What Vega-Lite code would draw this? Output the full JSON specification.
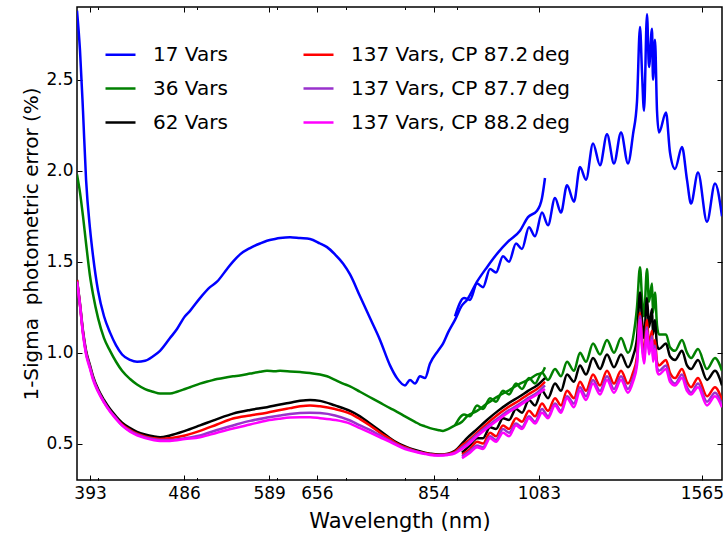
{
"$schema": "https://vega.github.io/schema/vega-lite/v6.json",
"width": 645, "height": 473,
"autosize": {"type": "none"},
"padding": {"left": 77, "top": 7, "right": 2, "bottom": 57},
"background": "white",
"config": {"view": {"stroke": "black", "strokeWidth": 1.5}, "font": "DejaVu Sans"},
"data": {"values": [
{"series":"17","part":"v","wl":381.6,"err":2.88},{"series":"17","part":"v","wl":384.2,"err":2.66},{"series":"17","part":"v","wl":386.8,"err":2.33},{"series":"17","part":"v","wl":389.5,"err":1.95},{"series":"17","part":"v","wl":393.0,"err":1.68},{"series":"17","part":"v","wl":395.7,"err":1.53},{"series":"17","part":"v","wl":400.2,"err":1.34},{"series":"17","part":"v","wl":405.6,"err":1.20},{"series":"17","part":"v","wl":411.2,"err":1.11},{"series":"17","part":"v","wl":416.8,"err":1.04},{"series":"17","part":"v","wl":422.5,"err":0.99},{"series":"17","part":"v","wl":430.2,"err":0.96},{"series":"17","part":"v","wl":437.0,"err":0.95},{"series":"17","part":"v","wl":445.0,"err":0.955},{"series":"17","part":"v","wl":453.1,"err":0.98},{"series":"17","part":"v","wl":460.3,"err":1.01},{"series":"17","part":"v","wl":470.8,"err":1.08},{"series":"17","part":"v","wl":478.3,"err":1.13},{"series":"17","part":"v","wl":487.0,"err":1.20},{"series":"17","part":"v","wl":492.6,"err":1.23},{"series":"17","part":"v","wl":503.8,"err":1.30},{"series":"17","part":"v","wl":515.3,"err":1.36},{"series":"17","part":"v","wl":523.5,"err":1.39},{"series":"17","part":"v","wl":535.5,"err":1.46},{"series":"17","part":"v","wl":542.8,"err":1.50},{"series":"17","part":"v","wl":551.5,"err":1.54},{"series":"17","part":"v","wl":564.1,"err":1.575},{"series":"17","part":"v","wl":576.9,"err":1.60},{"series":"17","part":"v","wl":586.1,"err":1.615},{"series":"17","part":"v","wl":596.8,"err":1.625},{"series":"17","part":"v","wl":603.6,"err":1.63},{"series":"17","part":"v","wl":617.4,"err":1.635},{"series":"17","part":"v","wl":631.5,"err":1.63},{"series":"17","part":"v","wl":645.9,"err":1.625},{"series":"17","part":"v","wl":660.7,"err":1.60},{"series":"17","part":"v","wl":671.2,"err":1.58},{"series":"17","part":"v","wl":683.4,"err":1.54},{"series":"17","part":"v","wl":695.9,"err":1.49},{"series":"17","part":"v","wl":707.0,"err":1.43},{"series":"17","part":"v","wl":723.1,"err":1.31},{"series":"17","part":"v","wl":739.6,"err":1.19},{"series":"17","part":"v","wl":756.5,"err":1.07},{"series":"17","part":"v","wl":773.8,"err":0.93},{"series":"17","part":"v","wl":786.1,"err":0.86},{"series":"17","part":"v","wl":800.5,"err":0.82},{"series":"17","part":"v","wl":809.5,"err":0.85},{"series":"17","part":"v","wl":818.7,"err":0.83},{"series":"17","part":"v","wl":828.0,"err":0.87},{"series":"17","part":"v","wl":837.4,"err":0.86},{"series":"17","part":"v","wl":847.0,"err":0.94},{"series":"17","part":"v","wl":862.4,"err":1.01},{"series":"17","part":"v","wl":872.2,"err":1.05},{"series":"17","part":"v","wl":882.1,"err":1.11},{"series":"17","part":"v","wl":896.1,"err":1.18},{"series":"17","part":"v","wl":910.4,"err":1.26},{"series":"17","part":"v","wl":920.8,"err":1.29},{"series":"17","part":"v","wl":941.8,"err":1.39},{"series":"17","part":"v","wl":963.3,"err":1.47},{"series":"17","part":"v","wl":987.5,"err":1.55},{"series":"17","part":"v","wl":1010.1,"err":1.61},{"series":"17","part":"v","wl":1037.8,"err":1.67},{"series":"17","part":"v","wl":1056.8,"err":1.745},{"series":"17","part":"v","wl":1078.5,"err":1.78},{"series":"17","part":"v","wl":1090.7,"err":1.85},{"series":"17","part":"v","wl":1098.1,"err":1.96},
{"series":"17","part":"n","wl":896.1,"err":1.20},{"series":"17","part":"n","wl":914.6,"err":1.30},{"series":"17","part":"n","wl":927.0,"err":1.29},{"series":"17","part":"n","wl":941.8,"err":1.38},{"series":"17","part":"n","wl":954.6,"err":1.36},{"series":"17","part":"n","wl":969.9,"err":1.46},{"series":"17","part":"n","wl":983.1,"err":1.44},{"series":"17","part":"n","wl":998.7,"err":1.53},{"series":"17","part":"n","wl":1012.4,"err":1.50},{"series":"17","part":"n","wl":1028.5,"err":1.60},{"series":"17","part":"n","wl":1042.5,"err":1.57},{"series":"17","part":"n","wl":1059.1,"err":1.69},{"series":"17","part":"n","wl":1073.6,"err":1.64},{"series":"17","part":"n","wl":1090.7,"err":1.77},{"series":"17","part":"n","wl":1105.6,"err":1.70},{"series":"17","part":"n","wl":1123.2,"err":1.85},{"series":"17","part":"n","wl":1138.5,"err":1.77},{"series":"17","part":"n","wl":1154.1,"err":1.92},{"series":"17","part":"n","wl":1172.4,"err":1.83},{"series":"17","part":"n","wl":1188.4,"err":2.02},{"series":"17","part":"n","wl":1204.7,"err":1.95},{"series":"17","part":"n","wl":1223.9,"err":2.15},{"series":"17","part":"n","wl":1243.4,"err":2.03},{"series":"17","part":"n","wl":1263.2,"err":2.20},{"series":"17","part":"n","wl":1283.3,"err":2.04},{"series":"17","part":"n","wl":1303.8,"err":2.21},{"series":"17","part":"n","wl":1324.5,"err":2.04},{"series":"17","part":"n","wl":1339.6,"err":2.20},{"series":"17","part":"n","wl":1351.7,"err":2.38},{"series":"17","part":"n","wl":1360.9,"err":2.79},{"series":"17","part":"n","wl":1367.1,"err":2.54},{"series":"17","part":"n","wl":1373.3,"err":2.33},{"series":"17","part":"n","wl":1382.6,"err":2.86},{"series":"17","part":"n","wl":1388.9,"err":2.57},{"series":"17","part":"n","wl":1398.3,"err":2.78},{"series":"17","part":"n","wl":1401.5,"err":2.50},{"series":"17","part":"n","wl":1407.8,"err":2.72},{"series":"17","part":"n","wl":1414.2,"err":2.33},{"series":"17","part":"n","wl":1420.6,"err":2.21},{"series":"17","part":"n","wl":1443.2,"err":2.32},{"series":"17","part":"n","wl":1456.3,"err":2.10},{"series":"17","part":"n","wl":1472.9,"err":2.01},{"series":"17","part":"n","wl":1496.3,"err":2.13},{"series":"17","part":"n","wl":1513.3,"err":1.95},{"series":"17","part":"n","wl":1527.0,"err":1.82},{"series":"17","part":"n","wl":1551.4,"err":1.99},{"series":"17","part":"n","wl":1583.2,"err":1.72},{"series":"17","part":"n","wl":1612.1,"err":1.93},{"series":"17","part":"n","wl":1637.8,"err":1.75},
{"series":"36","part":"v","wl":381.6,"err":1.98},{"series":"36","part":"v","wl":384.2,"err":1.88},{"series":"36","part":"v","wl":386.8,"err":1.75},{"series":"36","part":"v","wl":389.5,"err":1.60},{"series":"36","part":"v","wl":393.0,"err":1.42},{"series":"36","part":"v","wl":395.7,"err":1.32},{"series":"36","part":"v","wl":400.2,"err":1.19},{"series":"36","part":"v","wl":405.6,"err":1.08},{"series":"36","part":"v","wl":411.2,"err":1.01},{"series":"36","part":"v","wl":416.8,"err":0.95},{"series":"36","part":"v","wl":422.5,"err":0.90},{"series":"36","part":"v","wl":430.2,"err":0.855},{"series":"36","part":"v","wl":437.0,"err":0.825},{"series":"36","part":"v","wl":445.0,"err":0.80},{"series":"36","part":"v","wl":453.1,"err":0.785},{"series":"36","part":"v","wl":460.3,"err":0.775},{"series":"36","part":"v","wl":470.8,"err":0.775},{"series":"36","part":"v","wl":478.3,"err":0.785},{"series":"36","part":"v","wl":487.0,"err":0.80},{"series":"36","part":"v","wl":492.6,"err":0.81},{"series":"36","part":"v","wl":503.8,"err":0.83},{"series":"36","part":"v","wl":515.3,"err":0.845},{"series":"36","part":"v","wl":523.5,"err":0.855},{"series":"36","part":"v","wl":535.5,"err":0.865},{"series":"36","part":"v","wl":542.8,"err":0.87},{"series":"36","part":"v","wl":551.5,"err":0.875},{"series":"36","part":"v","wl":564.1,"err":0.885},{"series":"36","part":"v","wl":576.9,"err":0.895},{"series":"36","part":"v","wl":586.1,"err":0.90},{"series":"36","part":"v","wl":596.8,"err":0.898},{"series":"36","part":"v","wl":603.6,"err":0.90},{"series":"36","part":"v","wl":617.4,"err":0.897},{"series":"36","part":"v","wl":631.5,"err":0.893},{"series":"36","part":"v","wl":645.9,"err":0.888},{"series":"36","part":"v","wl":660.7,"err":0.88},{"series":"36","part":"v","wl":671.2,"err":0.87},{"series":"36","part":"v","wl":683.4,"err":0.85},{"series":"36","part":"v","wl":695.9,"err":0.83},{"series":"36","part":"v","wl":707.0,"err":0.815},{"series":"36","part":"v","wl":723.1,"err":0.785},{"series":"36","part":"v","wl":739.6,"err":0.755},{"series":"36","part":"v","wl":756.5,"err":0.725},{"series":"36","part":"v","wl":773.8,"err":0.695},{"series":"36","part":"v","wl":786.1,"err":0.675},{"series":"36","part":"v","wl":800.5,"err":0.65},{"series":"36","part":"v","wl":809.5,"err":0.635},{"series":"36","part":"v","wl":818.7,"err":0.62},{"series":"36","part":"v","wl":828.0,"err":0.605},{"series":"36","part":"v","wl":837.4,"err":0.595},{"series":"36","part":"v","wl":847.0,"err":0.585},{"series":"36","part":"v","wl":862.4,"err":0.575},{"series":"36","part":"v","wl":872.2,"err":0.57},{"series":"36","part":"v","wl":882.1,"err":0.58},{"series":"36","part":"v","wl":896.1,"err":0.60},{"series":"36","part":"v","wl":910.4,"err":0.62},{"series":"36","part":"v","wl":920.8,"err":0.65},{"series":"36","part":"v","wl":941.8,"err":0.68},{"series":"36","part":"v","wl":963.3,"err":0.72},{"series":"36","part":"v","wl":987.5,"err":0.76},{"series":"36","part":"v","wl":1010.1,"err":0.79},{"series":"36","part":"v","wl":1037.8,"err":0.83},{"series":"36","part":"v","wl":1056.8,"err":0.85},{"series":"36","part":"v","wl":1078.5,"err":0.88},{"series":"36","part":"v","wl":1090.7,"err":0.89},{"series":"36","part":"v","wl":1098.1,"err":0.92},
{"series":"36","part":"n","wl":896.1,"err":0.60},{"series":"36","part":"n","wl":914.6,"err":0.66},{"series":"36","part":"n","wl":927.0,"err":0.65},{"series":"36","part":"n","wl":941.8,"err":0.71},{"series":"36","part":"n","wl":954.6,"err":0.69},{"series":"36","part":"n","wl":969.9,"err":0.75},{"series":"36","part":"n","wl":983.1,"err":0.73},{"series":"36","part":"n","wl":998.7,"err":0.79},{"series":"36","part":"n","wl":1012.4,"err":0.77},{"series":"36","part":"n","wl":1028.5,"err":0.83},{"series":"36","part":"n","wl":1042.5,"err":0.80},{"series":"36","part":"n","wl":1059.1,"err":0.86},{"series":"36","part":"n","wl":1073.6,"err":0.83},{"series":"36","part":"n","wl":1090.7,"err":0.89},{"series":"36","part":"n","wl":1105.6,"err":0.85},{"series":"36","part":"n","wl":1123.2,"err":0.91},{"series":"36","part":"n","wl":1138.5,"err":0.87},{"series":"36","part":"n","wl":1154.1,"err":0.95},{"series":"36","part":"n","wl":1172.4,"err":0.90},{"series":"36","part":"n","wl":1188.4,"err":1.00},{"series":"36","part":"n","wl":1204.7,"err":0.95},{"series":"36","part":"n","wl":1223.9,"err":1.05},{"series":"36","part":"n","wl":1243.4,"err":0.99},{"series":"36","part":"n","wl":1263.2,"err":1.07},{"series":"36","part":"n","wl":1283.3,"err":1.00},{"series":"36","part":"n","wl":1303.8,"err":1.08},{"series":"36","part":"n","wl":1324.5,"err":1.00},{"series":"36","part":"n","wl":1339.6,"err":1.08},{"series":"36","part":"n","wl":1351.7,"err":1.25},{"series":"36","part":"n","wl":1360.9,"err":1.47},{"series":"36","part":"n","wl":1367.1,"err":1.30},{"series":"36","part":"n","wl":1373.3,"err":1.20},{"series":"36","part":"n","wl":1382.6,"err":1.46},{"series":"36","part":"n","wl":1388.9,"err":1.28},{"series":"36","part":"n","wl":1398.3,"err":1.38},{"series":"36","part":"n","wl":1401.5,"err":1.22},{"series":"36","part":"n","wl":1407.8,"err":1.33},{"series":"36","part":"n","wl":1414.2,"err":1.15},{"series":"36","part":"n","wl":1420.6,"err":1.10},{"series":"36","part":"n","wl":1443.2,"err":1.10},{"series":"36","part":"n","wl":1456.3,"err":1.03},{"series":"36","part":"n","wl":1472.9,"err":1.01},{"series":"36","part":"n","wl":1496.3,"err":1.07},{"series":"36","part":"n","wl":1513.3,"err":1.00},{"series":"36","part":"n","wl":1527.0,"err":0.97},{"series":"36","part":"n","wl":1551.4,"err":1.02},{"series":"36","part":"n","wl":1583.2,"err":0.91},{"series":"36","part":"n","wl":1612.1,"err":0.97},{"series":"36","part":"n","wl":1637.8,"err":0.90},
{"series":"62","part":"v","wl":381.6,"err":1.40},{"series":"62","part":"v","wl":384.2,"err":1.27},{"series":"62","part":"v","wl":386.8,"err":1.12},{"series":"62","part":"v","wl":389.5,"err":1.01},{"series":"62","part":"v","wl":393.0,"err":0.93},{"series":"62","part":"v","wl":395.7,"err":0.87},{"series":"62","part":"v","wl":400.2,"err":0.80},{"series":"62","part":"v","wl":405.6,"err":0.74},{"series":"62","part":"v","wl":411.2,"err":0.69},{"series":"62","part":"v","wl":416.8,"err":0.65},{"series":"62","part":"v","wl":422.5,"err":0.615},{"series":"62","part":"v","wl":430.2,"err":0.585},{"series":"62","part":"v","wl":437.0,"err":0.565},{"series":"62","part":"v","wl":445.0,"err":0.55},{"series":"62","part":"v","wl":453.1,"err":0.54},{"series":"62","part":"v","wl":460.3,"err":0.535},{"series":"62","part":"v","wl":470.8,"err":0.545},{"series":"62","part":"v","wl":487.0,"err":0.57},{"series":"62","part":"v","wl":503.8,"err":0.60},{"series":"62","part":"v","wl":523.5,"err":0.635},{"series":"62","part":"v","wl":542.8,"err":0.665},{"series":"62","part":"v","wl":564.1,"err":0.685},{"series":"62","part":"v","wl":586.1,"err":0.70},{"series":"62","part":"v","wl":603.6,"err":0.715},{"series":"62","part":"v","wl":617.4,"err":0.725},{"series":"62","part":"v","wl":631.5,"err":0.735},{"series":"62","part":"v","wl":645.9,"err":0.74},{"series":"62","part":"v","wl":660.7,"err":0.735},{"series":"62","part":"v","wl":683.4,"err":0.71},{"series":"62","part":"v","wl":707.0,"err":0.68},{"series":"62","part":"v","wl":723.1,"err":0.65},{"series":"62","part":"v","wl":739.6,"err":0.61},{"series":"62","part":"v","wl":756.5,"err":0.57},{"series":"62","part":"v","wl":773.8,"err":0.53},{"series":"62","part":"v","wl":786.1,"err":0.505},{"series":"62","part":"v","wl":800.5,"err":0.485},{"series":"62","part":"v","wl":818.7,"err":0.465},{"series":"62","part":"v","wl":837.4,"err":0.45},{"series":"62","part":"v","wl":847.0,"err":0.445},{"series":"62","part":"v","wl":862.4,"err":0.44},{"series":"62","part":"v","wl":882.1,"err":0.445},{"series":"62","part":"v","wl":896.1,"err":0.46},{"series":"62","part":"v","wl":910.4,"err":0.50},{"series":"62","part":"v","wl":920.8,"err":0.53},{"series":"62","part":"v","wl":941.8,"err":0.58},{"series":"62","part":"v","wl":963.3,"err":0.63},{"series":"62","part":"v","wl":987.5,"err":0.68},{"series":"62","part":"v","wl":1010.1,"err":0.72},{"series":"62","part":"v","wl":1037.8,"err":0.76},{"series":"62","part":"v","wl":1056.8,"err":0.79},{"series":"62","part":"v","wl":1078.5,"err":0.82},{"series":"62","part":"v","wl":1098.1,"err":0.86},
{"series":"62","part":"n","wl":910.4,"err":0.45},{"series":"62","part":"n","wl":927.0,"err":0.49},{"series":"62","part":"n","wl":941.8,"err":0.53},{"series":"62","part":"n","wl":954.6,"err":0.53},{"series":"62","part":"n","wl":969.9,"err":0.59},{"series":"62","part":"n","wl":983.1,"err":0.58},{"series":"62","part":"n","wl":998.7,"err":0.64},{"series":"62","part":"n","wl":1012.4,"err":0.63},{"series":"62","part":"n","wl":1028.5,"err":0.69},{"series":"62","part":"n","wl":1042.5,"err":0.67},{"series":"62","part":"n","wl":1059.1,"err":0.74},{"series":"62","part":"n","wl":1073.6,"err":0.71},{"series":"62","part":"n","wl":1090.7,"err":0.79},{"series":"62","part":"n","wl":1105.6,"err":0.75},{"series":"62","part":"n","wl":1123.2,"err":0.83},{"series":"62","part":"n","wl":1138.5,"err":0.79},{"series":"62","part":"n","wl":1154.1,"err":0.88},{"series":"62","part":"n","wl":1172.4,"err":0.84},{"series":"62","part":"n","wl":1188.4,"err":0.93},{"series":"62","part":"n","wl":1204.7,"err":0.88},{"series":"62","part":"n","wl":1223.9,"err":0.97},{"series":"62","part":"n","wl":1243.4,"err":0.91},{"series":"62","part":"n","wl":1263.2,"err":0.99},{"series":"62","part":"n","wl":1283.3,"err":0.92},{"series":"62","part":"n","wl":1303.8,"err":0.99},{"series":"62","part":"n","wl":1324.5,"err":0.92},{"series":"62","part":"n","wl":1339.6,"err":0.98},{"series":"62","part":"n","wl":1351.7,"err":1.08},{"series":"62","part":"n","wl":1360.9,"err":1.33},{"series":"62","part":"n","wl":1367.1,"err":1.18},{"series":"62","part":"n","wl":1373.3,"err":1.08},{"series":"62","part":"n","wl":1382.6,"err":1.30},{"series":"62","part":"n","wl":1388.9,"err":1.14},{"series":"62","part":"n","wl":1398.3,"err":1.24},{"series":"62","part":"n","wl":1401.5,"err":1.10},{"series":"62","part":"n","wl":1407.8,"err":1.18},{"series":"62","part":"n","wl":1414.2,"err":1.04},{"series":"62","part":"n","wl":1420.6,"err":1.02},{"series":"62","part":"n","wl":1443.2,"err":1.05},{"series":"62","part":"n","wl":1456.3,"err":0.98},{"series":"62","part":"n","wl":1472.9,"err":0.96},{"series":"62","part":"n","wl":1496.3,"err":1.01},{"series":"62","part":"n","wl":1513.3,"err":0.93},{"series":"62","part":"n","wl":1527.0,"err":0.91},{"series":"62","part":"n","wl":1551.4,"err":0.96},{"series":"62","part":"n","wl":1583.2,"err":0.85},{"series":"62","part":"n","wl":1612.1,"err":0.90},{"series":"62","part":"n","wl":1637.8,"err":0.82},
{"series":"87.2","part":"v","wl":381.6,"err":1.40},{"series":"87.2","part":"v","wl":384.2,"err":1.26},{"series":"87.2","part":"v","wl":386.8,"err":1.11},{"series":"87.2","part":"v","wl":389.5,"err":1.00},{"series":"87.2","part":"v","wl":393.0,"err":0.92},{"series":"87.2","part":"v","wl":395.7,"err":0.86},{"series":"87.2","part":"v","wl":400.2,"err":0.79},{"series":"87.2","part":"v","wl":405.6,"err":0.73},{"series":"87.2","part":"v","wl":411.2,"err":0.68},{"series":"87.2","part":"v","wl":416.8,"err":0.64},{"series":"87.2","part":"v","wl":422.5,"err":0.605},{"series":"87.2","part":"v","wl":430.2,"err":0.575},{"series":"87.2","part":"v","wl":437.0,"err":0.555},{"series":"87.2","part":"v","wl":445.0,"err":0.54},{"series":"87.2","part":"v","wl":453.1,"err":0.53},{"series":"87.2","part":"v","wl":460.3,"err":0.525},{"series":"87.2","part":"v","wl":470.8,"err":0.53},{"series":"87.2","part":"v","wl":487.0,"err":0.545},{"series":"87.2","part":"v","wl":503.8,"err":0.57},{"series":"87.2","part":"v","wl":523.5,"err":0.605},{"series":"87.2","part":"v","wl":542.8,"err":0.638},{"series":"87.2","part":"v","wl":564.1,"err":0.655},{"series":"87.2","part":"v","wl":586.1,"err":0.67},{"series":"87.2","part":"v","wl":603.6,"err":0.685},{"series":"87.2","part":"v","wl":617.4,"err":0.695},{"series":"87.2","part":"v","wl":631.5,"err":0.705},{"series":"87.2","part":"v","wl":645.9,"err":0.71},{"series":"87.2","part":"v","wl":660.7,"err":0.705},{"series":"87.2","part":"v","wl":683.4,"err":0.69},{"series":"87.2","part":"v","wl":707.0,"err":0.665},{"series":"87.2","part":"v","wl":723.1,"err":0.635},{"series":"87.2","part":"v","wl":739.6,"err":0.60},{"series":"87.2","part":"v","wl":756.5,"err":0.56},{"series":"87.2","part":"v","wl":773.8,"err":0.525},{"series":"87.2","part":"v","wl":786.1,"err":0.50},{"series":"87.2","part":"v","wl":800.5,"err":0.48},{"series":"87.2","part":"v","wl":818.7,"err":0.46},{"series":"87.2","part":"v","wl":837.4,"err":0.447},{"series":"87.2","part":"v","wl":847.0,"err":0.443},{"series":"87.2","part":"v","wl":862.4,"err":0.438},{"series":"87.2","part":"v","wl":882.1,"err":0.443},{"series":"87.2","part":"v","wl":896.1,"err":0.455},{"series":"87.2","part":"v","wl":910.4,"err":0.49},{"series":"87.2","part":"v","wl":920.8,"err":0.51},{"series":"87.2","part":"v","wl":941.8,"err":0.56},{"series":"87.2","part":"v","wl":963.3,"err":0.61},{"series":"87.2","part":"v","wl":987.5,"err":0.66},{"series":"87.2","part":"v","wl":1010.1,"err":0.70},{"series":"87.2","part":"v","wl":1037.8,"err":0.74},{"series":"87.2","part":"v","wl":1056.8,"err":0.77},{"series":"87.2","part":"v","wl":1078.5,"err":0.80},{"series":"87.2","part":"v","wl":1098.1,"err":0.84},
{"series":"87.2","part":"n","wl":910.4,"err":0.44},{"series":"87.2","part":"n","wl":927.0,"err":0.47},{"series":"87.2","part":"n","wl":941.8,"err":0.51},{"series":"87.2","part":"n","wl":954.6,"err":0.50},{"series":"87.2","part":"n","wl":969.9,"err":0.56},{"series":"87.2","part":"n","wl":983.1,"err":0.54},{"series":"87.2","part":"n","wl":998.7,"err":0.60},{"series":"87.2","part":"n","wl":1012.4,"err":0.58},{"series":"87.2","part":"n","wl":1028.5,"err":0.64},{"series":"87.2","part":"n","wl":1042.5,"err":0.62},{"series":"87.2","part":"n","wl":1059.1,"err":0.68},{"series":"87.2","part":"n","wl":1073.6,"err":0.65},{"series":"87.2","part":"n","wl":1090.7,"err":0.72},{"series":"87.2","part":"n","wl":1105.6,"err":0.68},{"series":"87.2","part":"n","wl":1123.2,"err":0.75},{"series":"87.2","part":"n","wl":1138.5,"err":0.71},{"series":"87.2","part":"n","wl":1154.1,"err":0.79},{"series":"87.2","part":"n","wl":1172.4,"err":0.75},{"series":"87.2","part":"n","wl":1188.4,"err":0.84},{"series":"87.2","part":"n","wl":1204.7,"err":0.79},{"series":"87.2","part":"n","wl":1223.9,"err":0.88},{"series":"87.2","part":"n","wl":1243.4,"err":0.82},{"series":"87.2","part":"n","wl":1263.2,"err":0.90},{"series":"87.2","part":"n","wl":1283.3,"err":0.83},{"series":"87.2","part":"n","wl":1303.8,"err":0.90},{"series":"87.2","part":"n","wl":1324.5,"err":0.83},{"series":"87.2","part":"n","wl":1339.6,"err":0.89},{"series":"87.2","part":"n","wl":1351.7,"err":0.98},{"series":"87.2","part":"n","wl":1360.9,"err":1.22},{"series":"87.2","part":"n","wl":1367.1,"err":1.08},{"series":"87.2","part":"n","wl":1373.3,"err":0.99},{"series":"87.2","part":"n","wl":1382.6,"err":1.18},{"series":"87.2","part":"n","wl":1388.9,"err":1.04},{"series":"87.2","part":"n","wl":1398.3,"err":1.12},{"series":"87.2","part":"n","wl":1401.5,"err":1.00},{"series":"87.2","part":"n","wl":1407.8,"err":1.07},{"series":"87.2","part":"n","wl":1414.2,"err":0.95},{"series":"87.2","part":"n","wl":1420.6,"err":0.93},{"series":"87.2","part":"n","wl":1443.2,"err":0.96},{"series":"87.2","part":"n","wl":1456.3,"err":0.89},{"series":"87.2","part":"n","wl":1472.9,"err":0.86},{"series":"87.2","part":"n","wl":1496.3,"err":0.91},{"series":"87.2","part":"n","wl":1513.3,"err":0.84},{"series":"87.2","part":"n","wl":1527.0,"err":0.81},{"series":"87.2","part":"n","wl":1551.4,"err":0.86},{"series":"87.2","part":"n","wl":1583.2,"err":0.76},{"series":"87.2","part":"n","wl":1612.1,"err":0.81},{"series":"87.2","part":"n","wl":1637.8,"err":0.74},
{"series":"87.7","part":"v","wl":381.6,"err":1.39},{"series":"87.7","part":"v","wl":384.2,"err":1.26},{"series":"87.7","part":"v","wl":386.8,"err":1.11},{"series":"87.7","part":"v","wl":389.5,"err":1.00},{"series":"87.7","part":"v","wl":393.0,"err":0.92},{"series":"87.7","part":"v","wl":395.7,"err":0.86},{"series":"87.7","part":"v","wl":400.2,"err":0.79},{"series":"87.7","part":"v","wl":405.6,"err":0.73},{"series":"87.7","part":"v","wl":411.2,"err":0.68},{"series":"87.7","part":"v","wl":416.8,"err":0.64},{"series":"87.7","part":"v","wl":422.5,"err":0.60},{"series":"87.7","part":"v","wl":430.2,"err":0.57},{"series":"87.7","part":"v","wl":437.0,"err":0.55},{"series":"87.7","part":"v","wl":445.0,"err":0.535},{"series":"87.7","part":"v","wl":453.1,"err":0.525},{"series":"87.7","part":"v","wl":460.3,"err":0.52},{"series":"87.7","part":"v","wl":470.8,"err":0.52},{"series":"87.7","part":"v","wl":487.0,"err":0.53},{"series":"87.7","part":"v","wl":503.8,"err":0.545},{"series":"87.7","part":"v","wl":523.5,"err":0.575},{"series":"87.7","part":"v","wl":542.8,"err":0.60},{"series":"87.7","part":"v","wl":564.1,"err":0.625},{"series":"87.7","part":"v","wl":586.1,"err":0.643},{"series":"87.7","part":"v","wl":603.6,"err":0.655},{"series":"87.7","part":"v","wl":617.4,"err":0.663},{"series":"87.7","part":"v","wl":631.5,"err":0.668},{"series":"87.7","part":"v","wl":645.9,"err":0.67},{"series":"87.7","part":"v","wl":660.7,"err":0.668},{"series":"87.7","part":"v","wl":683.4,"err":0.655},{"series":"87.7","part":"v","wl":707.0,"err":0.627},{"series":"87.7","part":"v","wl":723.1,"err":0.60},{"series":"87.7","part":"v","wl":739.6,"err":0.575},{"series":"87.7","part":"v","wl":756.5,"err":0.545},{"series":"87.7","part":"v","wl":773.8,"err":0.515},{"series":"87.7","part":"v","wl":786.1,"err":0.495},{"series":"87.7","part":"v","wl":800.5,"err":0.475},{"series":"87.7","part":"v","wl":818.7,"err":0.458},{"series":"87.7","part":"v","wl":837.4,"err":0.445},{"series":"87.7","part":"v","wl":847.0,"err":0.44},{"series":"87.7","part":"v","wl":862.4,"err":0.436},{"series":"87.7","part":"v","wl":882.1,"err":0.44},{"series":"87.7","part":"v","wl":896.1,"err":0.45},{"series":"87.7","part":"v","wl":910.4,"err":0.48},{"series":"87.7","part":"v","wl":920.8,"err":0.50},{"series":"87.7","part":"v","wl":941.8,"err":0.55},{"series":"87.7","part":"v","wl":963.3,"err":0.595},{"series":"87.7","part":"v","wl":987.5,"err":0.64},{"series":"87.7","part":"v","wl":1010.1,"err":0.68},{"series":"87.7","part":"v","wl":1037.8,"err":0.72},{"series":"87.7","part":"v","wl":1056.8,"err":0.75},{"series":"87.7","part":"v","wl":1078.5,"err":0.78},{"series":"87.7","part":"v","wl":1098.1,"err":0.82},
{"series":"87.7","part":"n","wl":910.4,"err":0.43},{"series":"87.7","part":"n","wl":927.0,"err":0.46},{"series":"87.7","part":"n","wl":941.8,"err":0.49},{"series":"87.7","part":"n","wl":954.6,"err":0.48},{"series":"87.7","part":"n","wl":969.9,"err":0.54},{"series":"87.7","part":"n","wl":983.1,"err":0.52},{"series":"87.7","part":"n","wl":998.7,"err":0.58},{"series":"87.7","part":"n","wl":1012.4,"err":0.56},{"series":"87.7","part":"n","wl":1028.5,"err":0.61},{"series":"87.7","part":"n","wl":1042.5,"err":0.59},{"series":"87.7","part":"n","wl":1059.1,"err":0.65},{"series":"87.7","part":"n","wl":1073.6,"err":0.62},{"series":"87.7","part":"n","wl":1090.7,"err":0.69},{"series":"87.7","part":"n","wl":1105.6,"err":0.65},{"series":"87.7","part":"n","wl":1123.2,"err":0.72},{"series":"87.7","part":"n","wl":1138.5,"err":0.68},{"series":"87.7","part":"n","wl":1154.1,"err":0.76},{"series":"87.7","part":"n","wl":1172.4,"err":0.72},{"series":"87.7","part":"n","wl":1188.4,"err":0.81},{"series":"87.7","part":"n","wl":1204.7,"err":0.76},{"series":"87.7","part":"n","wl":1223.9,"err":0.85},{"series":"87.7","part":"n","wl":1243.4,"err":0.79},{"series":"87.7","part":"n","wl":1263.2,"err":0.87},{"series":"87.7","part":"n","wl":1283.3,"err":0.80},{"series":"87.7","part":"n","wl":1303.8,"err":0.87},{"series":"87.7","part":"n","wl":1324.5,"err":0.80},{"series":"87.7","part":"n","wl":1339.6,"err":0.86},{"series":"87.7","part":"n","wl":1351.7,"err":0.95},{"series":"87.7","part":"n","wl":1360.9,"err":1.20},{"series":"87.7","part":"n","wl":1367.1,"err":1.05},{"series":"87.7","part":"n","wl":1373.3,"err":0.96},{"series":"87.7","part":"n","wl":1382.6,"err":1.14},{"series":"87.7","part":"n","wl":1388.9,"err":1.01},{"series":"87.7","part":"n","wl":1398.3,"err":1.09},{"series":"87.7","part":"n","wl":1401.5,"err":0.97},{"series":"87.7","part":"n","wl":1407.8,"err":1.04},{"series":"87.7","part":"n","wl":1414.2,"err":0.92},{"series":"87.7","part":"n","wl":1420.6,"err":0.90},{"series":"87.7","part":"n","wl":1443.2,"err":0.93},{"series":"87.7","part":"n","wl":1456.3,"err":0.86},{"series":"87.7","part":"n","wl":1472.9,"err":0.83},{"series":"87.7","part":"n","wl":1496.3,"err":0.88},{"series":"87.7","part":"n","wl":1513.3,"err":0.81},{"series":"87.7","part":"n","wl":1527.0,"err":0.78},{"series":"87.7","part":"n","wl":1551.4,"err":0.83},{"series":"87.7","part":"n","wl":1583.2,"err":0.73},{"series":"87.7","part":"n","wl":1612.1,"err":0.78},{"series":"87.7","part":"n","wl":1637.8,"err":0.71},
{"series":"88.2","part":"v","wl":381.6,"err":1.39},{"series":"88.2","part":"v","wl":384.2,"err":1.26},{"series":"88.2","part":"v","wl":386.8,"err":1.10},{"series":"88.2","part":"v","wl":389.5,"err":0.99},{"series":"88.2","part":"v","wl":393.0,"err":0.91},{"series":"88.2","part":"v","wl":395.7,"err":0.85},{"series":"88.2","part":"v","wl":400.2,"err":0.785},{"series":"88.2","part":"v","wl":405.6,"err":0.725},{"series":"88.2","part":"v","wl":411.2,"err":0.675},{"series":"88.2","part":"v","wl":416.8,"err":0.635},{"series":"88.2","part":"v","wl":422.5,"err":0.60},{"series":"88.2","part":"v","wl":430.2,"err":0.565},{"series":"88.2","part":"v","wl":437.0,"err":0.545},{"series":"88.2","part":"v","wl":445.0,"err":0.53},{"series":"88.2","part":"v","wl":453.1,"err":0.52},{"series":"88.2","part":"v","wl":460.3,"err":0.515},{"series":"88.2","part":"v","wl":470.8,"err":0.515},{"series":"88.2","part":"v","wl":487.0,"err":0.525},{"series":"88.2","part":"v","wl":503.8,"err":0.535},{"series":"88.2","part":"v","wl":523.5,"err":0.56},{"series":"88.2","part":"v","wl":542.8,"err":0.583},{"series":"88.2","part":"v","wl":564.1,"err":0.605},{"series":"88.2","part":"v","wl":586.1,"err":0.627},{"series":"88.2","part":"v","wl":603.6,"err":0.637},{"series":"88.2","part":"v","wl":617.4,"err":0.643},{"series":"88.2","part":"v","wl":631.5,"err":0.645},{"series":"88.2","part":"v","wl":645.9,"err":0.645},{"series":"88.2","part":"v","wl":660.7,"err":0.64},{"series":"88.2","part":"v","wl":683.4,"err":0.63},{"series":"88.2","part":"v","wl":707.0,"err":0.61},{"series":"88.2","part":"v","wl":723.1,"err":0.585},{"series":"88.2","part":"v","wl":739.6,"err":0.56},{"series":"88.2","part":"v","wl":756.5,"err":0.535},{"series":"88.2","part":"v","wl":773.8,"err":0.51},{"series":"88.2","part":"v","wl":786.1,"err":0.49},{"series":"88.2","part":"v","wl":800.5,"err":0.47},{"series":"88.2","part":"v","wl":818.7,"err":0.455},{"series":"88.2","part":"v","wl":837.4,"err":0.443},{"series":"88.2","part":"v","wl":847.0,"err":0.438},{"series":"88.2","part":"v","wl":862.4,"err":0.434},{"series":"88.2","part":"v","wl":882.1,"err":0.438},{"series":"88.2","part":"v","wl":896.1,"err":0.447},{"series":"88.2","part":"v","wl":910.4,"err":0.47},{"series":"88.2","part":"v","wl":920.8,"err":0.49},{"series":"88.2","part":"v","wl":941.8,"err":0.54},{"series":"88.2","part":"v","wl":963.3,"err":0.585},{"series":"88.2","part":"v","wl":987.5,"err":0.63},{"series":"88.2","part":"v","wl":1010.1,"err":0.67},{"series":"88.2","part":"v","wl":1037.8,"err":0.71},{"series":"88.2","part":"v","wl":1056.8,"err":0.74},{"series":"88.2","part":"v","wl":1078.5,"err":0.77},{"series":"88.2","part":"v","wl":1098.1,"err":0.80},
{"series":"88.2","part":"n","wl":910.4,"err":0.42},{"series":"88.2","part":"n","wl":927.0,"err":0.45},{"series":"88.2","part":"n","wl":941.8,"err":0.48},{"series":"88.2","part":"n","wl":954.6,"err":0.47},{"series":"88.2","part":"n","wl":969.9,"err":0.53},{"series":"88.2","part":"n","wl":983.1,"err":0.51},{"series":"88.2","part":"n","wl":998.7,"err":0.56},{"series":"88.2","part":"n","wl":1012.4,"err":0.54},{"series":"88.2","part":"n","wl":1028.5,"err":0.60},{"series":"88.2","part":"n","wl":1042.5,"err":0.58},{"series":"88.2","part":"n","wl":1059.1,"err":0.64},{"series":"88.2","part":"n","wl":1073.6,"err":0.61},{"series":"88.2","part":"n","wl":1090.7,"err":0.67},{"series":"88.2","part":"n","wl":1105.6,"err":0.64},{"series":"88.2","part":"n","wl":1123.2,"err":0.71},{"series":"88.2","part":"n","wl":1138.5,"err":0.67},{"series":"88.2","part":"n","wl":1154.1,"err":0.75},{"series":"88.2","part":"n","wl":1172.4,"err":0.70},{"series":"88.2","part":"n","wl":1188.4,"err":0.79},{"series":"88.2","part":"n","wl":1204.7,"err":0.74},{"series":"88.2","part":"n","wl":1223.9,"err":0.83},{"series":"88.2","part":"n","wl":1243.4,"err":0.77},{"series":"88.2","part":"n","wl":1263.2,"err":0.85},{"series":"88.2","part":"n","wl":1283.3,"err":0.78},{"series":"88.2","part":"n","wl":1303.8,"err":0.85},{"series":"88.2","part":"n","wl":1324.5,"err":0.78},{"series":"88.2","part":"n","wl":1339.6,"err":0.84},{"series":"88.2","part":"n","wl":1351.7,"err":0.93},{"series":"88.2","part":"n","wl":1360.9,"err":1.18},{"series":"88.2","part":"n","wl":1367.1,"err":1.03},{"series":"88.2","part":"n","wl":1373.3,"err":0.94},{"series":"88.2","part":"n","wl":1382.6,"err":1.12},{"series":"88.2","part":"n","wl":1388.9,"err":0.99},{"series":"88.2","part":"n","wl":1398.3,"err":1.07},{"series":"88.2","part":"n","wl":1401.5,"err":0.95},{"series":"88.2","part":"n","wl":1407.8,"err":1.02},{"series":"88.2","part":"n","wl":1414.2,"err":0.90},{"series":"88.2","part":"n","wl":1420.6,"err":0.88},{"series":"88.2","part":"n","wl":1443.2,"err":0.91},{"series":"88.2","part":"n","wl":1456.3,"err":0.84},{"series":"88.2","part":"n","wl":1472.9,"err":0.82},{"series":"88.2","part":"n","wl":1496.3,"err":0.86},{"series":"88.2","part":"n","wl":1513.3,"err":0.79},{"series":"88.2","part":"n","wl":1527.0,"err":0.77},{"series":"88.2","part":"n","wl":1551.4,"err":0.81},{"series":"88.2","part":"n","wl":1583.2,"err":0.71},{"series":"88.2","part":"n","wl":1612.1,"err":0.76},{"series":"88.2","part":"n","wl":1637.8,"err":0.70}
]},
"layer": [
{"mark": {"type": "line", "strokeWidth": 2.5, "interpolate": "monotone", "clip": true},
 "encoding": {
  "x": {"field": "wl", "type": "quantitative",
        "scale": {"type": "log", "domain": [381.6, 1637.8], "nice": false},
        "axis": {"orient": "bottom", "values": [393,400,486,500,589,600,656,700,800,854,900,1083,1565],
                 "labelExpr": "indexof([393,486,589,656,854,1083,1565], datum.value) >= 0 ? '' + datum.value : ''",
                 "title": "Wavelength (nm)", "grid": false, "domain": false, "labelFlush": false,
                 "tickColor": "black", "tickWidth": 1,
                 "tickSize": {"condition": {"test": "indexof([393,486,589,656,854,1083,1565], datum.value) >= 0", "value": -5}, "value": -2.5},
                 "labelFontSize": 17, "labelColor": "black", "labelPadding": 10,
                 "titleFontSize": 21, "titleFontWeight": "normal", "titleColor": "black", "titlePadding": 9}},
  "y": {"field": "err", "type": "quantitative",
        "scale": {"domain": [0.3, 2.9], "nice": false, "zero": false},
        "axis": {"orient": "left", "values": [0.5, 1.0, 1.5, 2.0, 2.5], "format": ".1f",
                 "title": "1-Sigma\u00a0 photometric error (%)", "grid": false, "domain": false,
                 "tickColor": "black", "tickWidth": 1, "tickSize": -5,
                 "labelFontSize": 17, "labelColor": "black", "labelPadding": 9,
                 "titleFontSize": 20, "titleFontWeight": "normal", "titleColor": "black", "titlePadding": 4}},
  "color": {"field": "series", "type": "nominal",
            "scale": {"domain": ["17","36","62","87.2","87.7","88.2"],
                      "range": ["#0000ff","#008000","#000000","#ff0000","#9932cc","#ff00ff"]},
            "legend": {"orient": "none", "legendX": 27, "legendY": 31, "columns": 2, "title": null,
                       "symbolType": "stroke", "symbolSize": 900, "symbolStrokeWidth": 2.5,
                       "labelFontSize": 20, "labelColor": "black", "labelOffset": 16, "labelLimit": 0,
                       "rowPadding": 7, "columnPadding": 70, "padding": 0,
                       "labelExpr": "datum.value == '17' ? '17 Vars' : datum.value == '36' ? '36 Vars' : datum.value == '62' ? '62 Vars' : '137 Vars, CP ' + datum.value + '\u2009deg'"}},
  "detail": {"field": "part", "type": "nominal"}
 }},
{"mark": {"type": "line", "opacity": 0},
 "encoding": {
  "x": {"field": "wl", "type": "quantitative",
        "axis": {"orient": "top", "values": [393,400,486,500,589,600,656,700,800,854,900,1083,1565],
                 "labels": false, "title": null, "grid": false, "domain": false, "tickColor": "black",
                 "tickSize": {"condition": {"test": "indexof([393,486,589,656,854,1083,1565], datum.value) >= 0", "value": -5}, "value": -2.5}}},
  "y": {"field": "err", "type": "quantitative",
        "axis": {"orient": "right", "values": [0.5, 1.0, 1.5, 2.0, 2.5], "labels": false, "title": null,
                 "grid": false, "domain": false, "tickColor": "black", "tickSize": -5}},
  "detail": {"field": "series", "type": "nominal"}
 }}
],
"resolve": {"axis": {"x": "independent", "y": "independent"}}
}
